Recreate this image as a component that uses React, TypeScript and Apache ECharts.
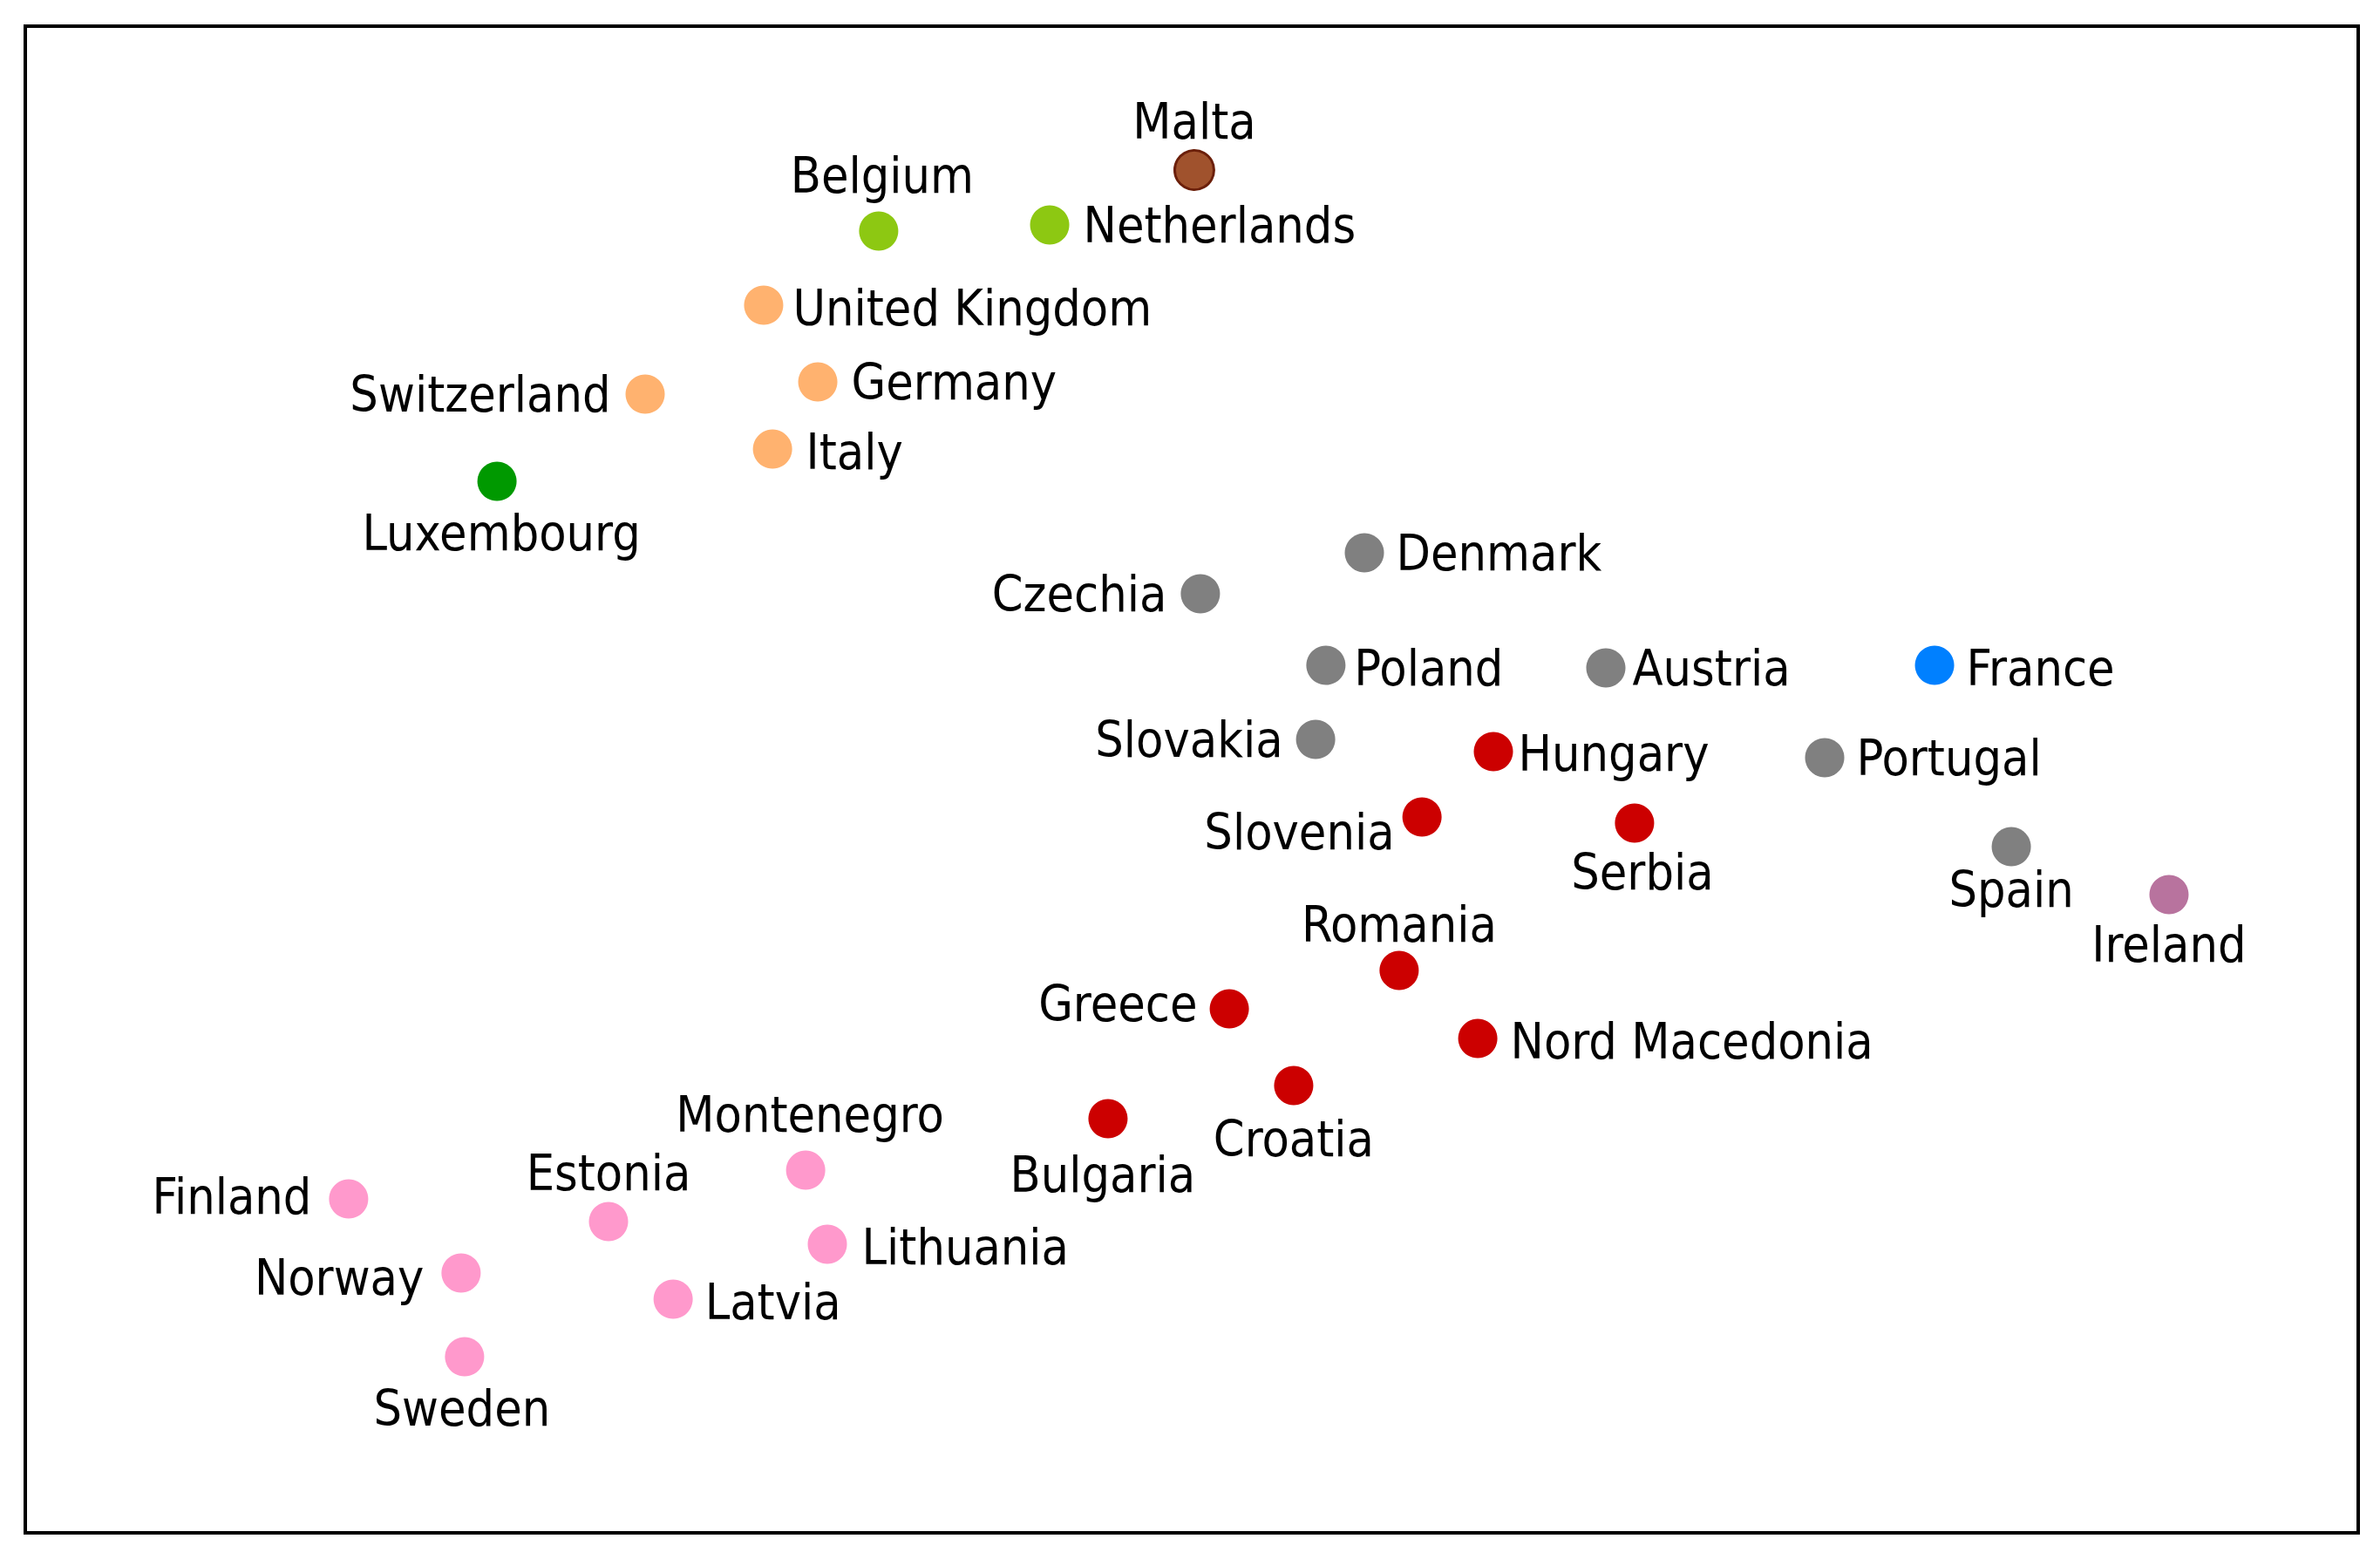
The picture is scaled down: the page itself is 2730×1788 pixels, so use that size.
import React, { useEffect, useRef } from "react";
import * as echarts from "echarts";

// Country names, grouped by cluster
const countries = [
  "Malta", "Belgium", "Netherlands", "United Kingdom", "Switzerland", "Germany", "Italy", "Luxembourg",
  "Denmark", "Czechia", "Poland", "Austria", "France", "Slovakia", "Hungary", "Portugal",
  "Slovenia", "Serbia", "Spain", "Ireland", "Romania", "Greece", "Nord Macedonia", "Croatia",
  "Bulgaria", "Montenegro", "Estonia", "Lithuania", "Latvia", "Finland", "Norway", "Sweden",
];
// Coordinates of the projection (dimension 1, dimension 2)
const dim1 = [
  50.11, 36.58, 43.91, 31.65, 26.57, 33.97, 32.03, 20.22,
  57.40, 50.37, 55.75, 67.75, 81.84, 55.31, 62.93, 77.13,
  59.87, 68.98, 85.13, 91.89, 58.89, 51.61, 62.26, 54.37,
  46.41, 33.45, 25.00, 34.38, 27.77, 13.86, 18.68, 18.83,
];
const dim2 = [
  90.45, 86.40, 86.81, 81.48, 75.58, 76.39, 71.93, 69.79,
  65.05, 62.33, 57.58, 57.41, 57.58, 52.66, 51.85, 51.45,
  47.51, 47.11, 45.54, 42.36, 37.33, 34.78, 32.81, 29.69,
  27.49, 24.07, 20.66, 19.16, 15.51, 22.16, 17.25, 11.69,
];
const cluster = [
  "malta", "benelux", "benelux", "core", "core", "core", "core", "lux",
  "central", "central", "central", "central", "france", "central", "south", "central",
  "south", "south", "central", "ireland", "south", "south", "south", "south",
  "south", "north", "north", "north", "north", "north", "north", "north",
];

// Styling (kept apart from data)
const clusterColors: Record<string, string> = {
  malta: "#A0522D",
  benelux: "#8DC812",
  core: "#FFB26F",
  lux: "#009900",
  central: "#808080",
  france: "#0080FF",
  south: "#CC0000",
  ireland: "#B8739E",
  north: "#FF99CC",
};
const clusterOrder = ["malta", "benelux", "core", "lux", "central", "france", "south", "ireland", "north"];

const labelPos: Record<string, string> = {
  Malta: "top", Belgium: "top", Netherlands: "right", "United Kingdom": "right",
  Switzerland: "left", Germany: "right", Italy: "right", Luxembourg: "bottom",
  Denmark: "right", Czechia: "left", Poland: "right", Austria: "right", France: "right",
  Slovakia: "left", Hungary: "right", Portugal: "right", Slovenia: "left", Serbia: "bottom",
  Spain: "bottom", Ireland: "bottom", Romania: "top", Greece: "left", "Nord Macedonia": "right",
  Croatia: "bottom", Bulgaria: "bottom", Montenegro: "top", Estonia: "top", Lithuania: "right",
  Latvia: "right", Finland: "left", Norway: "left", Sweden: "bottom",
};
const labelDist: Record<string, number> = {
  Malta: 4, Belgium: 10, Netherlands: 16, "United Kingdom": 11, Switzerland: 17, Germany: 16,
  Italy: 16, Luxembourg: 6, Denmark: 14, Czechia: 16, Poland: 10, Austria: 8, France: 14,
  Slovakia: 15, Hungary: 6, Portugal: 14, Slovenia: 9, Serbia: 3, Spain: -2, Ireland: 4,
  Romania: 2, Greece: 14, "Nord Macedonia": 15, Croatia: 7, Bulgaria: 10, Montenegro: 10,
  Estonia: 5, Lithuania: 17, Latvia: 14, Finland: 20, Norway: 20, Sweden: 6,
};
const labelOffset: Record<string, [number, number]> = {
  Slovenia: [0, 17], Greece: [0, -6], Belgium: [4, -3], Bulgaria: [-6, 3], Croatia: [0, 3],
  Montenegro: [5, -3], Luxembourg: [5, 2], Serbia: [9, 2], Sweden: [-3, 2], Finland: [0, -3],
  Norway: [0, 5], Italy: [0, 3], "United Kingdom": [0, 3], Poland: [0, 3], France: [0, 3],
  "Nord Macedonia": [0, 3], Lithuania: [0, 3], Latvia: [0, 3], Hungary: [0, 2], Ireland: [0, 2],
};

export default function App() {
  const ref = useRef<HTMLDivElement>(null);
  useEffect(() => {
    if (!ref.current) return;
    const chart = echarts.init(ref.current, null, { renderer: "svg" });
    const series = clusterOrder.map((c) => ({
      type: "scatter",
      name: c,
      symbol: "circle",
      symbolSize: 45,
      itemStyle:
        c === "malta"
          ? { color: clusterColors[c], borderColor: "#6B1F0A", borderWidth: 3, opacity: 1 }
          : { color: clusterColors[c], opacity: 1 },
      data: countries
        .map((n, i) => ({ n, i }))
        .filter(({ i }) => cluster[i] === c)
        .map(({ n, i }) => ({
          name: n,
          value: [dim1[i], dim2[i]],
          label: {
            show: true,
            position: labelPos[n],
            distance: labelDist[n],
            offset: labelOffset[n] || [0, 0],
            formatter: n,
          },
        })),
      label: {
        show: true,
        color: "#000",
        fontSize: 57,
        fontFamily: "'DejaVu Sans Condensed', 'DejaVu Sans', sans-serif",
      },
      emphasis: { disabled: true },
    }));
    chart.setOption({
      animation: false,
      backgroundColor: "#fff",
      grid: {
        left: 29,
        top: 30,
        right: 25,
        bottom: 30,
        show: true,
        borderColor: "#000",
        borderWidth: 4,
        backgroundColor: "transparent",
      },
      xAxis: { type: "value", min: 0, max: 100, show: false },
      yAxis: { type: "value", min: 0, max: 100, show: false },
      series,
    });
    return () => chart.dispose();
  }, []);
  return (
    <div
      ref={ref}
      style={{ position: "fixed", left: 0, top: 0, width: 2730, height: 1788, background: "#fff" }}
    />
  );
}
